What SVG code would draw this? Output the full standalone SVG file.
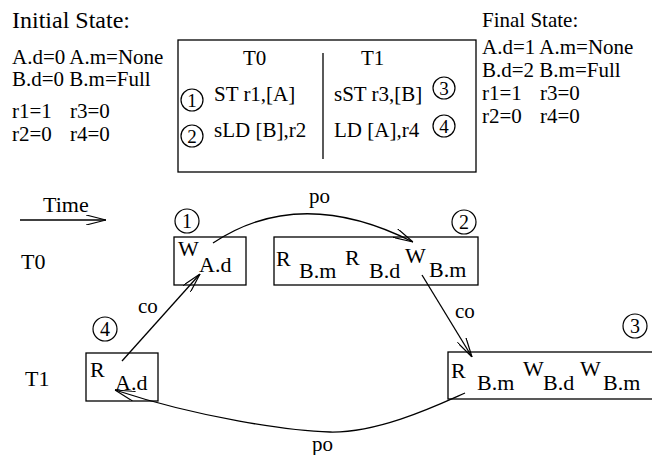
<svg xmlns="http://www.w3.org/2000/svg" width="652" height="455" viewBox="0 0 652 455">
<style>
text { font-family: "Liberation Serif", "Times New Roman", serif; fill: #000; font-size: 21px; }
.big { font-size: 24px; }
.lab { font-size: 22px; }
.nd { font-size: 22px; }
.c { font-size: 19px; text-anchor: middle; }
.cn { font-size: 20px; text-anchor: middle; }
.box { fill: #fff; stroke: #000; stroke-width: 1.3; }
.ring { fill: none; stroke: #000; stroke-width: 1.2; }
.ln { fill: none; stroke: #000; stroke-width: 1.3; }
</style>
<defs>
<marker id="ah" viewBox="0 0 20 10" refX="20" refY="5" markerWidth="20" markerHeight="10" markerUnits="userSpaceOnUse" orient="auto">
<path d="M0,0 L20,5 L0,10" fill="none" stroke="#000" stroke-width="1.2"/>
</marker>
</defs>

<g id="initial-state">
<text class="big" x="12" y="28">Initial State:</text>
<text x="12" y="64">A.d=0 A.m=None</text>
<text x="12" y="86">B.d=0 B.m=Full</text>
<text x="12" y="118">r1=1</text><text x="70" y="118">r3=0</text>
<text x="12" y="141">r2=0</text><text x="70" y="141">r4=0</text>
</g>

<g id="program">
<rect class="box" x="178" y="40" width="298" height="132"/>
<line class="ln" x1="323" y1="53" x2="323" y2="159"/>
<text x="243" y="65">T0</text>
<text x="361" y="65">T1</text>
<circle class="ring" cx="192" cy="100" r="11"/><text class="c" x="192" y="106.5">1</text>
<text x="214" y="101">ST r1,[A]</text>
<circle class="ring" cx="192" cy="136" r="11"/><text class="c" x="192" y="142.5">2</text>
<text x="214" y="137">sLD [B],r2</text>
<text x="334" y="101">sST r3,[B]</text>
<circle class="ring" cx="444" cy="88" r="11"/><text class="c" x="444" y="94.5">3</text>
<text x="334" y="137">LD [A],r4</text>
<circle class="ring" cx="444" cy="126" r="11"/><text class="c" x="444" y="132.5">4</text>
</g>

<g id="final-state">
<text x="482" y="27">Final State:</text>
<text x="482" y="54">A.d=1 A.m=None</text>
<text x="482" y="77">B.d=2 B.m=Full</text>
<text x="482" y="100">r1=1</text><text x="540" y="100">r3=0</text>
<text x="482" y="123">r2=0</text><text x="540" y="123">r4=0</text>
</g>

<g id="time">
<text class="lab" x="43" y="212">Time</text>
<line class="ln" x1="20" y1="220" x2="106" y2="220" marker-end="url(#ah)"/>
</g>

<g id="label-T0"><text class="lab" x="21" y="269">T0</text></g>
<g id="label-T1"><text class="lab" x="25" y="386">T1</text></g>

<g id="node-1">
<rect class="box" x="174" y="237" width="72" height="48"/>
<text class="nd" x="178" y="256">W</text><text class="nd" x="199" y="272">A.d</text>
<circle class="ring" cx="187" cy="221" r="12"/><text class="cn" x="187" y="228">1</text>
</g>

<g id="node-2">
<rect class="box" x="274" y="237" width="204" height="48"/>
<text class="nd" x="276" y="266">R</text><text class="nd" x="299" y="278">B.m</text>
<text class="nd" x="345" y="265">R</text><text class="nd" x="369" y="278">B.d</text>
<text class="nd" x="405" y="263">W</text><text class="nd" x="429" y="277">B.m</text>
<circle class="ring" cx="464" cy="222" r="12"/><text class="cn" x="464" y="229">2</text>
</g>

<g id="node-4">
<rect class="box" x="86" y="353" width="72" height="48"/>
<text class="nd" x="90" y="377">R</text><text class="nd" x="115" y="390">A.d</text>
<circle class="ring" cx="105" cy="329" r="12"/><text class="cn" x="105" y="336">4</text>
</g>

<g id="node-3">
<rect class="box" x="448" y="352" width="210" height="47"/>
<text class="nd" x="451" y="378">R</text><text class="nd" x="477" y="390">B.m</text>
<text class="nd" x="523" y="376">W</text><text class="nd" x="543" y="390">B.d</text>
<text class="nd" x="580" y="376">W</text><text class="nd" x="603" y="390">B.m</text>
<circle class="ring" cx="635" cy="326" r="12"/><text class="cn" x="635" y="333">3</text>
</g>

<g id="connectors">
<path class="ln" d="M213,243 Q300,185 413,242" marker-end="url(#ah)"/>
<text x="309" y="203">po</text>
<path class="ln" d="M422,275 L472,357" marker-end="url(#ah)"/>
<text x="455" y="318">co</text>
<path class="ln" d="M122,361 L200,274" marker-end="url(#ah)"/>
<text x="138" y="313">co</text>
<path class="ln" d="M465,393 C440,404 380,433 330,432 C290,431 200,418 115,390" marker-end="url(#ah)"/>
<text x="312" y="451">po</text>
</g>
</svg>
